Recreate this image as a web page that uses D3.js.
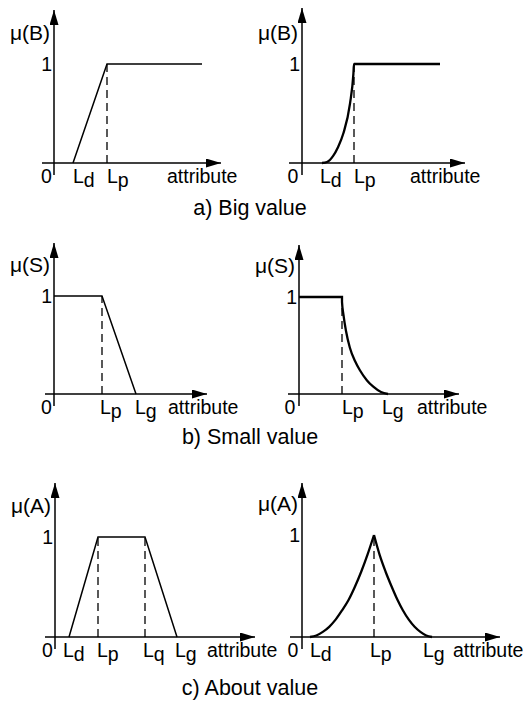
<!DOCTYPE html>
<html><head><meta charset="utf-8">
<script src="https://cdn.jsdelivr.net/npm/d3@7"></script>
<style>
html,body{margin:0;padding:0;background:#fff;}
svg text{font-family:"Liberation Sans",Arial,sans-serif;fill:#000;}
</style></head>
<body><svg id="c" width="523" height="702"></svg>
<script>
// ---------- DATA (attribute units, membership 0..1) ----------
// a) Big value
const bigLinear = [[1.9,0],[5.3,1],[14.8,1]];
const bigCurve  = [[2.0,0],[2.5,0.01],[3.1,0.07],[3.6,0.16],[4.14,0.30],[4.8,0.60],[5.14,0.90],[5.2,1],[13.8,1]];
const bigLeftTicks  = [{n:"d",x:1.9},{n:"p",x:5.3}];
const bigRightTicks = [{n:"d",x:1.8},{n:"p",x:5.2}];
const bigLeftDash  = [5.3];
const bigRightDash = [5.2];
// b) Small value
const smallLinear = [[0,1],[4.8,1],[8.2,0]];
const smallCurve  = [[0,1],[4.3,1],[4.3,0.95],[4.44,0.82],[4.7,0.65],[5.08,0.48],[5.6,0.34],[6.09,0.245],[6.8,0.14],[7.43,0.075],[8.2,0.02],[8.9,0]];
const smallLeftTicks  = [{n:"p",x:4.6},{n:"g",x:8.1}];
const smallRightTicks = [{n:"p",x:4.3},{n:"g",x:8.3}];
const smallLeftDash  = [4.8];
const smallRightDash = [4.3];
// c) About value
const aboutLinear = [[1.4,0],[4.3,1],[9.0,1],[12.2,0]];
const aboutCurveL = [[0.8,0],[1.44,0.015],[2.08,0.05],[2.72,0.10],[3.36,0.17],[4.0,0.26],[4.64,0.36],[5.28,0.49],[5.92,0.64],[6.56,0.81],[7.2,1]];
const aboutCurveR = [[7.2,1],[7.78,0.80],[8.36,0.64],[8.94,0.50],[9.52,0.37],[10.1,0.26],[10.68,0.17],[11.26,0.10],[11.84,0.05],[12.42,0.015],[13.0,0]];
const aboutLeftTicks  = [{n:"d",x:0.8},{n:"p",x:4.2},{n:"q",x:8.8},{n:"g",x:12.0}];
const aboutRightTicks = [{n:"d",x:0.8},{n:"p",x:6.8},{n:"g",x:12.1}];
const aboutLeftDash  = [4.3, 9.0];
const aboutRightDash = [7.2];
const captions = ["a) Big value","b) Small value","c) About value"];

// ---------- LAYOUT ----------
const svg = d3.select("#c");
const defs = svg.append("defs");
defs.append("marker").attr("id","arr").attr("viewBox","0 0 15 9").attr("refX",15).attr("refY",4.5)
  .attr("markerWidth",15).attr("markerHeight",9).attr("markerUnits","userSpaceOnUse").attr("orient","auto")
  .append("path").attr("d","M0,0L15,4.5L0,9Z").attr("fill","#000");

const panels = [
 {ax:54, by:163, oy:64,  top:10,  x0:-1.2, x1:16.7, ylab:"μ(B)", zero:7.5, attr:167, lines:[bigLinear], w:1.5, ticks:bigLeftTicks, dash:bigLeftDash},
 {ax:302,by:163, oy:64,  top:8,   x0:-1.3, x1:16.3, ylab:"μ(B)", zero:9,   attr:410, lines:[bigCurve], w:2.3, ticks:bigRightTicks, dash:bigRightDash},
 {ax:54, by:394, oy:296, top:243, x0:-0.9, x1:15.3, ylab:"μ(S)", zero:7.5, attr:168, lines:[smallLinear], w:1.5, ticks:smallLeftTicks, dash:smallLeftDash},
 {ax:299,by:394, oy:297, top:245, x0:-1.1, x1:16.0, ylab:"μ(S)", zero:9,   attr:417, lines:[smallCurve], w:2.3, ticks:smallRightTicks, dash:smallRightDash},
 {ax:55, by:637, oy:537, top:483, x0:-1.0, x1:20.0, ylab:"μ(A)", zero:7.5, attr:207, lines:[aboutLinear], w:1.5, ticks:aboutLeftTicks, dash:aboutLeftDash},
 {ax:302,by:637, oy:535, top:483, x0:-1.2, x1:19.8, ylab:"μ(A)", zero:9,   attr:453, lines:[aboutCurveL,aboutCurveR], w:2.3, ticks:aboutRightTicks, dash:aboutRightDash}
];
const fs = 19.5;

panels.forEach((p,i)=>{
  const x = d3.scaleLinear().domain([0,10]).range([p.ax, p.ax+100]);
  const y = d3.scaleLinear().domain([0,1]).range([p.by, p.oy]);
  const g = svg.append("g");
  g.append("line").attr("x1",x(p.x0)).attr("x2",x(p.x1)).attr("y1",y(0)).attr("y2",y(0))
    .attr("stroke","#000").attr("stroke-width",1.5).attr("marker-end","url(#arr)");
  g.append("line").attr("x1",x(0)).attr("x2",x(0)).attr("y1",y(0)+12).attr("y2",p.top)
    .attr("stroke","#000").attr("stroke-width",1.5).attr("marker-end","url(#arr)");
  p.dash.forEach(d=>{
    g.append("line").attr("x1",x(d)).attr("x2",x(d)).attr("y1",y(0)).attr("y2",y(1))
      .attr("stroke","#000").attr("stroke-width",1.3).attr("stroke-dasharray","8,5");
  });
  const curved = p.w>2;
  const line = d3.line().x(d=>x(d[0])).y(d=>y(d[1])).curve(curved?d3.curveMonotoneX:d3.curveLinear);
  p.lines.forEach(L=>{
    g.append("path").attr("d",line(L)).attr("fill","none").attr("stroke","#000")
      .attr("stroke-width",p.w).attr("stroke-linejoin","miter");
  });
  g.append("text").attr("x",x(0)-4).attr("y",y(1)-24).attr("text-anchor","end").attr("font-size",21).text(p.ylab);
  g.append("text").attr("x",x(0)-2).attr("y",y(1)+7).attr("text-anchor","end").attr("font-size",fs).text("1");
  g.append("text").attr("x",x(0)-p.zero).attr("y",y(0)+20).attr("text-anchor","middle").attr("font-size",fs).text("0");
  p.ticks.forEach(t=>{
    const tx = g.append("text").attr("x",x(t.x)).attr("y",y(0)+20).attr("font-size",fs);
    tx.append("tspan").text("L");
    tx.append("tspan").attr("dy",4).text(t.n);
  });
  g.append("text").attr("x",p.attr).attr("y",y(0)+20).attr("font-size",fs).text("attribute");
});
const capY = [215,444,695];
captions.forEach((c,i)=>{
  svg.append("text").attr("x",250).attr("y",capY[i]).attr("text-anchor","middle").attr("font-size",21.5).text(c);
});
</script></body></html>
